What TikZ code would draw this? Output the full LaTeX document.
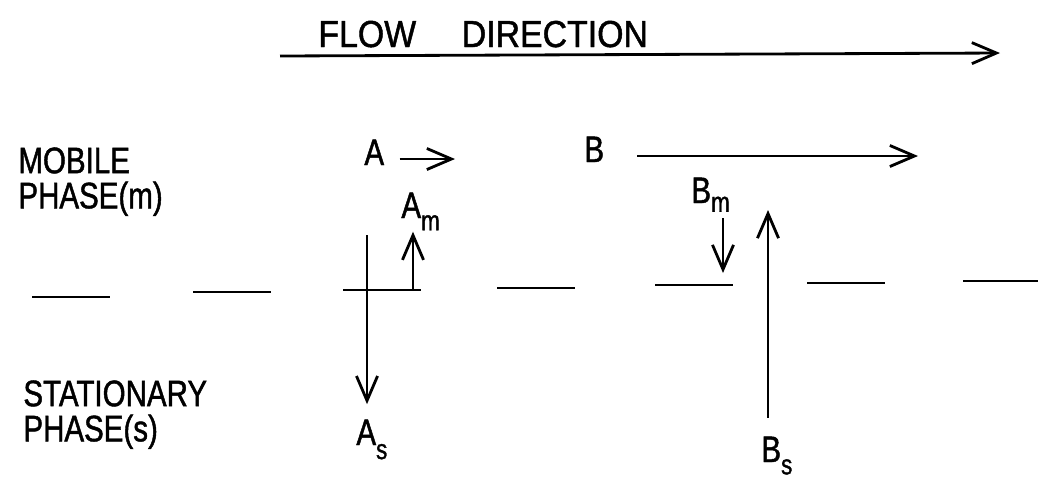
\documentclass[tikz,border=0pt]{standalone}
\usepackage{fontspec}
\setmainfont{Liberation Sans}[FakeStretch=0.8, FakeBold=1.2]
\newfontfamily\flowfont{Liberation Sans}[FakeStretch=0.9, FakeBold=1.2]
\usetikzlibrary{arrows.meta}
\newcommand{\lowsub}[3]{\kern#1\raisebox{#2}{\fontsize{16}{16}\selectfont #3}}

\begin{document}
\begin{tikzpicture}[x=0.02cm, y=-0.02cm, line width=1.6pt,
    >={Straight Barb[length=14pt,width=12pt]},
    label/.style={inner sep=0pt, anchor=base west, font=\fontsize{21}{17}\selectfont},
    phase/.style={inner sep=0pt, anchor=north west, align=left, font=\fontsize{21}{20}\selectfont}]

    % Bounding box matched to the reference
    \useasboundingbox (0,0) rectangle (1038,485);

    % Flow direction
    \node[inner sep=0pt, anchor=base west, font=\flowfont\fontsize{21.4}{21.4}\selectfont] (flowtxt) at (317,47) {FLOW\hspace{26pt}DIRECTION};
    \coordinate (flowstart) at (280,56);
    \coordinate (flowend) at (1000,53);
    \draw[->] (flowstart) -- (flowend);

    % Phase labels
    \node[phase] (mobile) at (17,146) {MOBILE\\PHASE(m)};
    \node[phase] (stationary) at (22,379) {STATIONARY\\PHASE(s)};

    % Interface between the phases
    \foreach \x/\y in {32/297, 193/292, 343/290, 497/288, 655/285, 807/283, 963/281}
        \draw (\x,\y) -- ++(78,0);

    % Solute A
    \node[label] (A) at (363,165) {A};
    \coordinate (Aarrow) at (455,159);
    \draw[->, shorten <=8pt] (A.east |- Aarrow) -- (Aarrow);
    \node[label] (Am) at (400,218) {A\lowsub{0pt}{-7pt}{m}};
    \node[label] (As) at (355,445) {A\lowsub{0pt}{-8pt}{s}};
    \coordinate (Amfoot) at (413,290);
    \draw[->] (Amfoot) -- (Amfoot |- Am.south);
    \coordinate (Astop) at (367,235);
    \draw[->, shorten >=8pt] (Astop) -- (Astop |- As.north);

    % Solute B
    \node[label] (B) at (583,162) {B};
    \coordinate (Barrow) at (918,156);
    \draw[->, shorten <=18pt] (B.east |- Barrow) -- (Barrow);
    \node[label] (Bm) at (690,203) {B\lowsub{0pt}{-5pt}{m}};
    \node[label] (Bs) at (760,462) {B\lowsub{0pt}{-7pt}{s}};
    \coordinate (Bmtip) at (723,273);
    \draw[->, shorten <=3pt] (Bmtip |- Bm.south) -- (Bmtip);
    \coordinate (Bstip) at (768,210);
    \draw[->, shorten <=10pt] (Bstip |- Bs.north) -- (Bstip);
\end{tikzpicture}
\end{document}
